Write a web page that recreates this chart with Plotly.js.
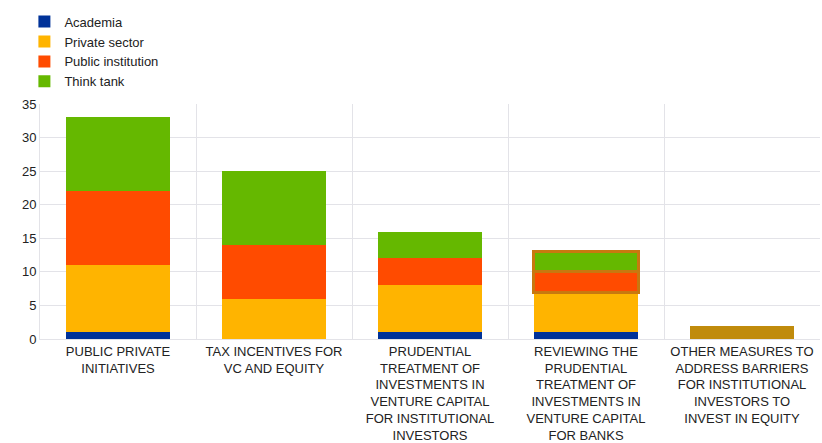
<!DOCTYPE html>
<html>
<head>
<meta charset="utf-8">
<script src="https://cdn.plot.ly/plotly-3.0.1.min.js"></script>
<style>body{margin:0;padding:0;background:#fff}#chart{width:822px;height:443px}</style>
</head>
<body>
<div id="chart"></div>
<script>
const categories = [
  "PUBLIC PRIVATE<br>INITIATIVES",
  "TAX INCENTIVES FOR<br>VC AND EQUITY",
  "PRUDENTIAL<br>TREATMENT OF<br>INVESTMENTS IN<br>VENTURE CAPITAL<br>FOR INSTITUTIONAL<br>INVESTORS",
  "REVIEWING THE<br>PRUDENTIAL<br>TREATMENT OF<br>INVESTMENTS IN<br>VENTURE CAPITAL<br>FOR BANKS",
  "OTHER MEASURES TO<br>ADDRESS BARRIERS<br>FOR INSTITUTIONAL<br>INVESTORS TO<br>INVEST IN EQUITY"
];
const academia = [1, 0, 1, 1, 0];
const privateSector = [10, 6, 7, 6, 0];
const publicInstitution = [11, 8, 4, 3, 0];
const thinkTank = [11, 11, 4, 3, 0];
const other = [0, 0, 0, 0, 2];
const seriesNames = ["Academia", "Private sector", "Public institution", "Think tank"];

const colors = ["#003299", "#ffb400", "#ff4b00", "#65b800"];
const highlightColor = "#c8780f";
const highlightWidths = [0, 0, 0, 3, 0];

const data = [academia, privateSector, publicInstitution, thinkTank].map((vals, i) => ({
  type: "bar",
  name: seriesNames[i],
  x: categories,
  y: vals,
  marker: {
    color: colors[i],
    line: i >= 2 ? {color: highlightColor, width: highlightWidths} : {width: 0}
  },
  hoverinfo: "skip"
}));
data.push({
  type: "bar",
  name: "Other",
  x: categories,
  y: other,
  marker: {color: "#c08b0c", line: {width: 0}},
  showlegend: false,
  hoverinfo: "skip"
});

const layout = {
  width: 822,
  height: 443,
  barmode: "stack",
  bargap: 0.33,
  margin: {l: 40, r: 2, t: 104, b: 104},
  paper_bgcolor: "#fff",
  plot_bgcolor: "#fff",
  font: {family: "Liberation Sans, Arial, sans-serif", size: 13, color: "#222"},
  showlegend: true,
  legend: {
    x: -0.02, y: 0.985, xanchor: "left", yanchor: "top",
    xref: "paper", yref: "container",
    orientation: "v",
    traceorder: "normal",
    tracegroupgap: 0,
    font: {size: 13, color: "#222"},
    bgcolor: "rgba(0,0,0,0)"
  },
  xaxis: {
    type: "category",
    tickson: "boundaries",
    showgrid: true,
    gridcolor: "#e3e3e8",
    gridwidth: 1,
    ticks: "",
    tickfont: {family: "Liberation Sans Narrow, Arial Narrow, Liberation Sans, sans-serif", size: 13, color: "#222"},
    tickangle: 0,
    showline: true,
    linecolor: "#e3e3e8",
    mirror: false,
    automargin: false
  },
  yaxis: {
    range: [0, 35],
    dtick: 5,
    showgrid: true,
    gridcolor: "#e3e3e8",
    zeroline: true,
    zerolinecolor: "#e3e3e8",
    ticks: "",
    tickfont: {size: 13, color: "#222"},
    showline: true,
    linecolor: "#e3e3e8",
    automargin: false
  }
};

Plotly.newPlot("chart", data, layout, {displayModeBar: false, staticPlot: true});
</script>
</body>
</html>
